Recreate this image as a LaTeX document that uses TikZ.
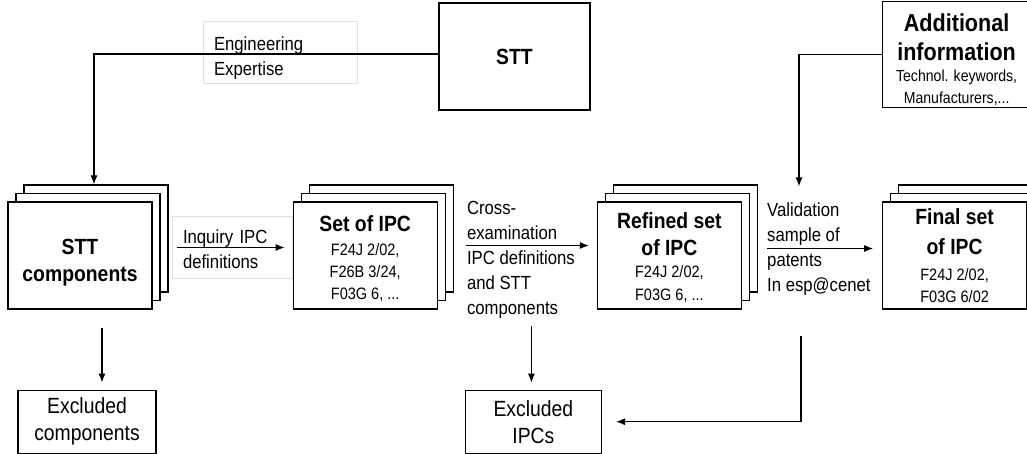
\documentclass[tikz,border=0pt]{standalone}
\usepackage{fontspec}
\setmainfont{Liberation Sans}[FakeStretch=0.88]
\usepackage{tikz}
\usetikzlibrary{arrows.meta,shapes,positioning,shadows}
\newcommand{\titlefont}{\fontsize{22}{27}\selectfont\bfseries}
\newcommand{\bigtitlefont}{\fontsize{24.5}{27}\selectfont\bfseries}
\newcommand{\codefont}{\fontsize{16.5}{22}\selectfont\mdseries}
\newcommand{\notefont}{\fontsize{19}{25}\selectfont}
\newcommand{\exclfont}{\fontsize{22}{27}\selectfont}
\newcommand{\smallfont}{\fontsize{16}{19}\selectfont\mdseries}
\tikzstyle{arrow} = [line width=1.1pt,-{Latex[length=9pt,width=7pt]}]

\begin{document}
\begin{tikzpicture}[
    x=1pt, y=1pt,
    stack/.style={rectangle, draw, fill=white, line width=1.2pt, minimum width=144pt, minimum height=107pt, inner sep=2pt, align=center, font=\titlefont, double copy shadow={shadow xshift=8pt, shadow yshift=8.5pt}},
    block/.style={rectangle, draw, fill=white, line width=1.2pt, inner sep=2pt, align=center},
    note/.style={rectangle, draw=black!12, line width=0.8pt, align=left, font=\notefont, inner xsep=11pt, minimum height=62pt},
    steplabel/.style={align=left, font=\notefont, inner sep=0pt}
]
\useasboundingbox (0,0) rectangle (1027,-454);

% Process chain
\node (comp) [stack] at (80,-255.5) {\rule{0pt}{30pt}STT\\components};
\node (setipc) [stack, right=140pt of comp] {\rule{0pt}{22pt}Set of IPC\\[-3pt] \codefont F24J 2/02,\\[-5pt] \codefont F26B 3/24,\\[-5pt] \codefont F03G 6, ...};
\node (refined) [stack, right=159pt of setipc] {\rule{0pt}{20pt}Refined set\\ of IPC\\[-5pt] \codefont F24J 2/02,\\[-4pt] \codefont F03G 6, ...};
\node (final) [stack, right=140pt of refined] {Final set\\[3pt] of IPC\\[-1pt] \codefont F24J 2/02,\\[-5pt] \codefont F03G 6/02};

% Inputs
\node (stt) [block, font=\titlefont, minimum width=151pt, minimum height=107pt] at (514.5,-56.5) {STT};
\node (addinfo) [block, font=\bigtitlefont, above=93pt of final, xshift=2pt, minimum width=148pt, minimum height=106pt] {\rule{0pt}{28pt}Additional\\[2pt] information\\[-6pt] \smallfont Technol. keywords,\\[-5pt] \smallfont Manufacturers,...};

% Exclusions
\node (exclcomp) [block, font=\exclfont, below=80pt of comp, xshift=7pt, minimum width=138pt, minimum height=63pt] {Excluded\\components};
\node (exclipc) [block, font=\exclfont, below=80pt of refined, xshift=-136pt, minimum width=136pt, minimum height=63pt] {Excluded\\IPCs};

% Step labels
\node (eng) [note, left=81pt of stt, yshift=4.5pt, text width=132pt] {\rule{0pt}{26pt}Engineering\\Expertise};
\node (inq) [note, right=19pt of comp, yshift=8.5pt, text width=98pt] {\rule{0pt}{19pt}Inquiry IPC\\definitions};
\node (cross) [steplabel, right=29pt of setipc, yshift=-4pt] {Cross-\\examination\\IPC definitions\\and STT\\components};
\node (valid) [steplabel, right=25pt of refined, yshift=6.5pt] {Validation\\sample of\\patents\\In esp@cenet};

\coordinate (vtop) at ([xshift=-83pt,yshift=15pt]final.north west);
\coordinate (fb) at ([xshift=-81pt,yshift=-26pt]final.south west);

% Connections
\draw[arrow] ([yshift=2.5pt]stt.west) -| ([shift={(14pt,17pt)}]comp.north);
\draw[arrow] (addinfo.west) -| (vtop);
\draw[arrow, shorten <=24pt, shorten >=8pt] ([yshift=8pt]comp.east) -- ([yshift=8pt]setipc.west);
\draw[arrow, shorten <=28pt, shorten >=8pt] ([yshift=10pt]setipc.east) -- ([yshift=10pt]refined.west);
\draw[arrow, shorten <=25pt, shorten >=9pt] ([yshift=7pt]refined.east) -- ([yshift=7pt]final.west);
\draw[arrow, shorten <=18pt, shorten >=7pt] ([xshift=22pt]comp.south) -- ([xshift=15pt]exclcomp.north);
\draw[arrow, shorten <=8pt, shorten >=7pt] ([xshift=-2pt]cross.south -| exclipc.north) -- ([xshift=-2pt]exclipc.north);
\draw[arrow] (fb) |- ([xshift=14pt]exclipc.east);
\end{tikzpicture}
\end{document}
